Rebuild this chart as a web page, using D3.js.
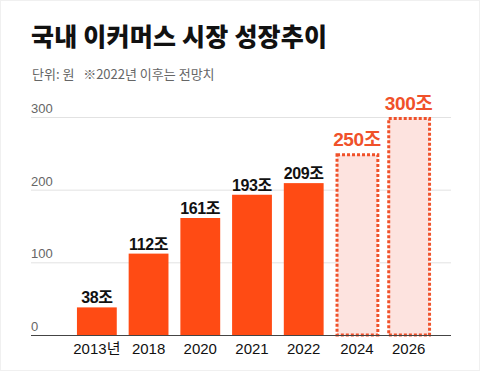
<!DOCTYPE html>
<html>
<head>
<meta charset="utf-8">
<script src="https://cdn.jsdelivr.net/npm/d3@7"></script>
<style>
  body { margin: 0; background: #fff; }
  svg { display: block; font-family: "Noto Sans CJK KR", "Noto Sans", sans-serif; }
  .num { font-family: "Liberation Sans", "Noto Sans CJK KR", sans-serif; }
</style>
</head>
<body>
<svg id="chart" width="480" height="371"></svg>
<script>
// chart data
const years = ['2013년', '2018', '2020', '2021', '2022', '2024', '2026'];
const values = [38, 112, 161, 193, 209, 250, 300];
const forecast = [false, false, false, false, false, true, true];
const yTicks = [0, 100, 200, 300];

const width = 480;
const height = 371;
const barColor = '#ff4b14';
const forecastColor = '#f0512a';

const data = years.map((y, i) => ({ year: y, value: values[i], forecast: forecast[i] }));

const svg = d3.select('#chart');

// faint frame like the reference screenshot
svg.append('rect')
    .attr('x', 0.5).attr('y', 0.5)
    .attr('width', width - 1).attr('height', height - 1)
    .attr('fill', 'none')
    .attr('stroke', '#f0f0f0');

// Title + subtitle
svg.append('text')
    .attr('x', 31)
    .attr('y', 46)
    .style('font-size', '25px')
    .style('font-weight', '900')
    .style('letter-spacing', '0.2px')
    .style('fill', '#111')
    .text('국내 이커머스 시장 성장추이');

svg.append('text')
    .attr('x', 32)
    .attr('y', 79)
    .style('font-size', '13px')
    .style('fill', '#666')
    .style('white-space', 'pre')
    .text('단위: 원   ※2022년 이후는 전망치');

// Scales
const xScale = d3.scaleBand()
    .domain(years)
    .range([71, 433])
    .paddingInner(0.23)
    .paddingOuter(0.115);

const yScale = d3.scaleLinear()
    .domain([0, 300])
    .range([335, 117]);

// Gridlines
svg.append('g')
    .selectAll('line')
    .data(yTicks.filter(d => d > 0))
    .enter()
    .append('line')
    .attr('x1', 31)
    .attr('x2', 451)
    .attr('y1', d => yScale(d) + 0.5)
    .attr('y2', d => yScale(d) + 0.5)
    .attr('stroke', '#e2e2e2')
    .attr('stroke-width', 1);

// Tick labels sit above gridlines
svg.append('g')
    .selectAll('text')
    .data(yTicks)
    .enter()
    .append('text')
    .attr('class', 'num')
    .attr('x', 31)
    .attr('y', d => yScale(d) - 4)
    .style('font-size', '13px')
    .style('fill', '#666')
    .text(d => d);

// Actual bars
svg.append('g')
    .selectAll('rect')
    .data(data.filter(d => !d.forecast))
    .enter()
    .append('rect')
    .attr('x', d => xScale(d.year))
    .attr('y', d => yScale(d.value))
    .attr('width', xScale.bandwidth())
    .attr('height', d => yScale(0) - yScale(d.value))
    .attr('fill', barColor);

// Forecast bars (dashed outline)
svg.append('g')
    .selectAll('rect')
    .data(data.filter(d => d.forecast))
    .enter()
    .append('rect')
    .attr('x', d => xScale(d.year) + 1.5)
    .attr('y', d => yScale(d.value) + 1.5)
    .attr('width', xScale.bandwidth() + 1)
    .attr('height', d => yScale(0) - yScale(d.value) - 1.5)
    .attr('fill', '#fde3df')
    .attr('stroke', forecastColor)
    .attr('stroke-width', 3)
    .attr('stroke-dasharray', '3,2');

// Baseline
svg.append('line')
    .attr('x1', 31)
    .attr('x2', 451)
    .attr('y1', yScale(0) + 0.5)
    .attr('y2', yScale(0) + 0.5)
    .attr('stroke', '#444')
    .attr('stroke-width', 1);

// Value labels
svg.append('g')
    .selectAll('text')
    .data(data)
    .enter()
    .append('text')
    .attr('class', 'num')
    .attr('x', d => xScale(d.year) + xScale.bandwidth() / 2 + (d.forecast ? 1.5 : 0))
    .attr('y', d => yScale(d.value) - (d.forecast ? 7 : 4))
    .style('text-anchor', 'middle')
    .style('font-size', d => d.forecast ? '19px' : '16px')
    .style('font-weight', 'bold')
    .style('letter-spacing', '-0.4px')
    .style('fill', d => d.forecast ? forecastColor : '#111')
    .text(d => d.value + '조');

// X axis labels
svg.append('g')
    .selectAll('text')
    .data(data)
    .enter()
    .append('text')
    .attr('class', 'num')
    .attr('x', d => xScale(d.year) + xScale.bandwidth() / 2 + (d.forecast ? 1.5 : 0))
    .attr('y', 354)
    .style('text-anchor', 'middle')
    .style('font-size', '15px')
    .style('fill', '#111')
    .text(d => d.year);
</script>
</body>
</html>
